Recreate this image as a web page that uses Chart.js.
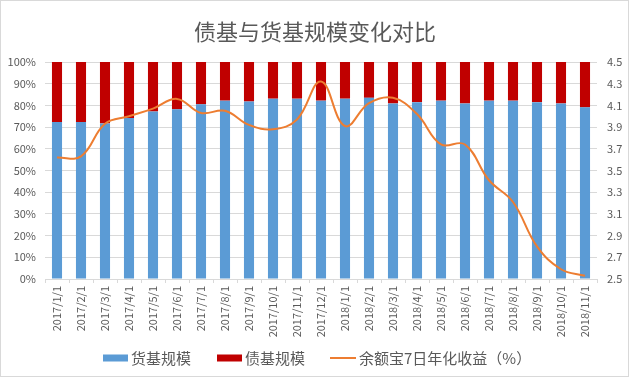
<!DOCTYPE html>
<html>
<head>
<meta charset="utf-8">
<script src="https://cdn.jsdelivr.net/npm/chart.js@4"></script>
<style>
  html, body { margin: 0; padding: 0; background: #ffffff; }
  #wrap { width: 630px; height: 378px; position: relative; }
</style>
</head>
<body>
<div id="wrap"><canvas id="c" width="630" height="378"></canvas></div>
<script>
const categories = ['2017/1/1','2017/2/1','2017/3/1','2017/4/1','2017/5/1','2017/6/1','2017/7/1','2017/8/1','2017/9/1','2017/10/1','2017/11/1','2017/12/1','2018/1/1','2018/2/1','2018/3/1','2018/4/1','2018/5/1','2018/6/1','2018/7/1','2018/8/1','2018/9/1','2018/10/1','2018/11/1'];
const moneyFundShare = [72.3, 72.3, 71.7, 74.2, 77.2, 78.2, 80.5, 82.2, 81.8, 83.1, 83.1, 82.2, 83.1, 83.5, 80.9, 81.5, 82.2, 80.9, 82.2, 82.2, 81.5, 80.9, 79.1];
const bondFundShare = [27.7, 27.7, 28.3, 25.8, 22.8, 21.8, 19.5, 17.8, 18.2, 16.9, 16.9, 17.8, 16.9, 16.5, 19.1, 18.5, 17.8, 19.1, 17.8, 17.8, 18.5, 19.1, 20.9];
const yuebaoYield = [3.62, 3.63, 3.93, 4.00, 4.07, 4.16, 4.03, 4.05, 3.92, 3.88, 3.97, 4.32, 3.91, 4.12, 4.17, 4.02, 3.74, 3.74, 3.41, 3.21, 2.80, 2.59, 2.53];
const seriesNames = ['货基规模', '债基规模', '余额宝7日年化收益（%）'];
const titleText = '债基与货基规模变化对比';

const FONT = '"Noto Sans CJK SC", "Noto Sans", sans-serif';
const TEXT = '#595959';
const GRID = '#d9d9d9';
const COLORS = ['#5b9bd5', '#c00000', '#ed7d31'];

const decorPlugin = {
  id: 'decor',
  beforeDraw(chart) {
    const ctx = chart.ctx;
    ctx.save();
    ctx.fillStyle = '#ffffff';
    ctx.fillRect(0, 0, chart.width, chart.height);
    ctx.strokeStyle = '#d9d9d9';
    ctx.lineWidth = 1;
    ctx.strokeRect(0.5, 0.5, 628, 376);
    ctx.restore();
  },
  afterDraw(chart) {
    const ctx = chart.ctx;
    ctx.save();
    // title
    ctx.fillStyle = TEXT;
    ctx.font = '22px ' + FONT;
    ctx.textAlign = 'center';
    ctx.textBaseline = 'middle';
    ctx.fillText(titleText, 315, 32);
    // legend
    ctx.font = '15px ' + FONT;
    ctx.textAlign = 'left';
    const ly = 358;
    ctx.fillStyle = COLORS[0];
    ctx.fillRect(103, ly - 3.5, 25, 7);
    ctx.fillStyle = TEXT;
    ctx.fillText(seriesNames[0], 131, ly);
    ctx.fillStyle = COLORS[1];
    ctx.fillRect(217, ly - 3.5, 25, 7);
    ctx.fillStyle = TEXT;
    ctx.fillText(seriesNames[1], 245, ly);
    ctx.strokeStyle = COLORS[2];
    ctx.lineWidth = 2;
    ctx.beginPath();
    ctx.moveTo(330, ly);
    ctx.lineTo(356, ly);
    ctx.stroke();
    ctx.fillStyle = TEXT;
    ctx.fillText(seriesNames[2], 359, ly);
    ctx.restore();
  }
};

new Chart(document.getElementById('c'), {
  type: 'bar',
  data: {
    labels: categories,
    datasets: [
      {
        type: 'line',
        label: seriesNames[2],
        data: yuebaoYield,
        yAxisID: 'y1',
        borderColor: COLORS[2],
        backgroundColor: COLORS[2],
        borderWidth: 2,
        pointRadius: 0,
        tension: 0.4,
        fill: false,
        order: 0
      },
      {
        label: seriesNames[0],
        data: moneyFundShare,
        backgroundColor: COLORS[0],
        yAxisID: 'y',
        stack: 's',
        barPercentage: 0.42,
        categoryPercentage: 1,
        order: 1
      },
      {
        label: seriesNames[1],
        data: bondFundShare,
        backgroundColor: COLORS[1],
        yAxisID: 'y',
        stack: 's',
        barPercentage: 0.42,
        categoryPercentage: 1,
        order: 1
      }
    ]
  },
  options: {
    responsive: false,
    animation: false,
    devicePixelRatio: 1,
    layout: { padding: { top: 62, bottom: 39, left: 0, right: 0 } },
    plugins: {
      legend: { display: false },
      title: { display: false },
      tooltip: { enabled: false }
    },
    scales: {
      x: {
        stacked: true,
        offset: true,
        grid: { display: true, drawOnChartArea: false, drawTicks: true, tickLength: 4, color: GRID, offset: true },
        border: { display: true, color: GRID },
        ticks: {
          autoSkip: false,
          minRotation: 90,
          maxRotation: 90,
          padding: 3,
          color: TEXT,
          font: { family: FONT, size: 11 }
        },
        afterFit(scale) { scale.height = 60; }
      },
      y: {
        position: 'left',
        stacked: true,
        min: 0,
        max: 100,
        grid: { color: GRID, drawTicks: false },
        border: { display: false },
        ticks: {
          stepSize: 10,
          padding: 9,
          color: TEXT,
          font: { family: FONT, size: 11 },
          callback: (v) => v + '%'
        },
        afterFit(scale) { scale.width = 45; }
      },
      y1: {
        position: 'right',
        min: 2.5,
        max: 4.5,
        grid: { display: false, drawTicks: false },
        border: { display: false },
        ticks: {
          stepSize: 0.2,
          padding: 10,
          color: TEXT,
          font: { family: FONT, size: 11 },
          callback: (v) => Number(v).toFixed(1)
        },
        afterFit(scale) { scale.width = 33; }
      }
    }
  },
  plugins: [decorPlugin]
});
</script>
</body>
</html>
